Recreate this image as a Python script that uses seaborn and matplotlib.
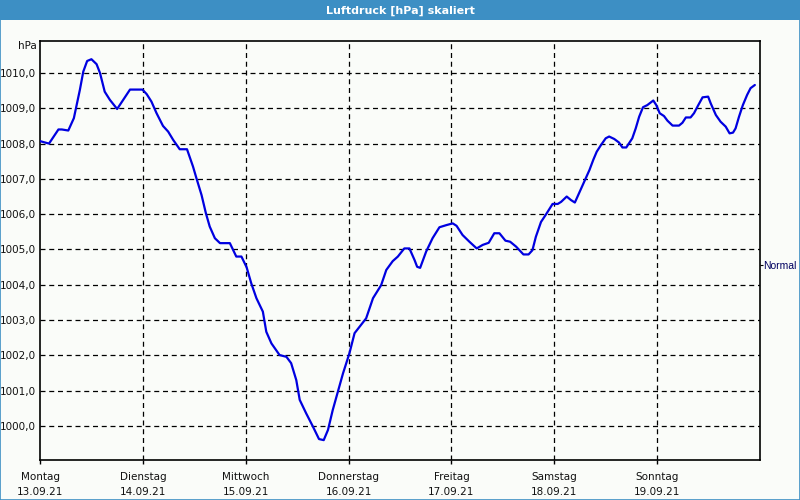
import matplotlib
matplotlib.use("Agg")
import matplotlib.pyplot as plt
import seaborn as sns
import pandas as pd
from matplotlib.patches import Rectangle

# ---- data (hours since Monday 00:00, pressure in hPa) ----
hours = [0.0, 2.1, 4.3, 5.1, 6.6, 7.9, 9.3, 10.1, 11.0, 12.0, 13.2, 14.0, 15.1, 16.3, 18.0,
         21.0, 23.9, 24.9, 26.0, 27.2, 28.7, 29.9, 31.1, 32.6, 34.3, 35.7, 36.5, 37.7, 38.7,
         39.6, 40.8, 42.0, 44.3, 45.8, 47.0, 48.2, 49.3, 50.5, 52.0, 52.8, 54.0, 55.9, 57.5,
         58.6, 59.8, 60.6, 62.1, 63.7, 65.1, 66.2, 67.2, 68.3, 69.5, 70.7, 72.2, 73.4, 75.0,
         76.1, 77.7, 79.6, 80.8, 82.3, 83.5, 85.0, 86.2, 87.4, 88.0, 88.7, 90.1, 91.6, 93.2,
         94.8, 96.3, 97.2, 98.6, 100.2, 101.9, 103.3, 104.7, 106.0, 107.2, 108.6, 109.7,
         111.1, 112.8, 114.0, 114.9, 115.7, 116.9, 118.1, 119.6, 120.8, 121.6, 122.9, 123.9,
         124.8, 125.8, 127.0, 128.2, 129.1, 129.9, 130.9, 132.0, 132.8, 134.0, 135.1, 135.9,
         136.8, 138.2, 139.0, 139.8, 140.7, 141.7, 143.1, 143.8, 144.6, 145.6, 146.4, 147.6,
         149.1, 149.9, 150.7, 151.8, 152.6, 153.6, 154.6, 155.9, 156.5, 157.7, 158.8, 160.0,
         160.9, 161.7, 162.3, 163.1, 164.0, 165.0, 165.8, 166.8]
pressure = [1008.07, 1008.0, 1008.4, 1008.4, 1008.37, 1008.72, 1009.52, 1010.04, 1010.34,
            1010.39, 1010.25, 1010.0, 1009.47, 1009.24, 1008.98, 1009.53, 1009.53, 1009.4,
            1009.19, 1008.86, 1008.5, 1008.34, 1008.1, 1007.84, 1007.84, 1007.35, 1007.02,
            1006.54, 1006.03, 1005.65, 1005.32, 1005.18, 1005.18, 1004.8, 1004.8, 1004.5,
            1004.04, 1003.62, 1003.24, 1002.67, 1002.34, 1002.01, 1001.96, 1001.78, 1001.3,
            1000.74, 1000.36, 999.98, 999.63, 999.6, 999.89, 1000.45, 1000.97, 1001.49,
            1002.06, 1002.63, 1002.88, 1003.05, 1003.62, 1003.99, 1004.42, 1004.67, 1004.8,
            1005.03, 1005.03, 1004.7, 1004.51, 1004.48, 1004.94, 1005.32, 1005.63, 1005.69,
            1005.74, 1005.67, 1005.41, 1005.22, 1005.03, 1005.13, 1005.19, 1005.46, 1005.46,
            1005.25, 1005.22, 1005.08, 1004.86, 1004.86, 1004.98, 1005.36, 1005.78, 1006.0,
            1006.29, 1006.29, 1006.35, 1006.5, 1006.4, 1006.33, 1006.6, 1006.92, 1007.25,
            1007.54, 1007.77, 1007.96, 1008.15, 1008.2, 1008.13, 1008.03, 1007.89, 1007.89,
            1008.15, 1008.43, 1008.76, 1009.03, 1009.09, 1009.22, 1009.09, 1008.86, 1008.78,
            1008.65, 1008.51, 1008.51, 1008.59, 1008.74, 1008.74, 1008.86, 1009.09, 1009.31,
            1009.33, 1009.14, 1008.81, 1008.62, 1008.48, 1008.29, 1008.31, 1008.43, 1008.76,
            1009.09, 1009.38, 1009.57, 1009.66]

day_names = ["Montag", "Dienstag", "Mittwoch", "Donnerstag", "Freitag", "Samstag", "Sonntag"]
day_dates = ["13.09.21", "14.09.21", "15.09.21", "16.09.21", "17.09.21", "18.09.21", "19.09.21"]
y_ticks = [1000, 1001, 1002, 1003, 1004, 1005, 1006, 1007, 1008, 1009, 1010]
normal_level = 1004.56
title = "Luftdruck [hPa] skaliert"
unit = "hPa"

df = pd.DataFrame({"Stunde": hours, "Luftdruck": pressure})

sns.set_theme(style="white")
plt.rcParams["font.family"] = ["DejaVu Sans"]

bg = "#fafcf9"
bar_blue = "#3d8fc4"

fig = plt.figure(figsize=(8, 5), dpi=100, facecolor=bg)
ax = fig.add_axes([0.05, 0.08, 0.90, 0.838])
ax.set_facecolor(bg)

sns.lineplot(data=df, x="Stunde", y="Luftdruck", ax=ax, color="#0000e0",
             linewidth=1.6, zorder=3)

ax.set_xlim(0, 168)
ax.set_ylim(999.037, 1010.906)
ax.set_xlabel("")
ax.set_ylabel("")

ax.set_yticks(y_ticks)
ax.set_yticklabels([f"{v:.1f}".replace(".", ",") for v in y_ticks], fontsize=7.5, color="#111111")
ax.set_xticks([24 * i for i in range(7)])
ax.set_xticklabels([f"{n}\n{d}" for n, d in zip(day_names, day_dates)],
                   fontsize=7.5, color="#111111", linespacing=1.55)

ax.tick_params(axis="y", length=0, pad=3)
ax.tick_params(axis="x", length=3, width=1, color="black", pad=6, direction="out", bottom=True)

for v in y_ticks:
    ax.axhline(v, color="black", linestyle=(0, (4, 3)), linewidth=0.9, zorder=1)
for i in range(1, 7):
    ax.axvline(24 * i, color="black", linestyle=(0, (4, 3)), linewidth=0.9, zorder=1)

for s in ax.spines.values():
    s.set_visible(True)
    s.set_color("black")
    s.set_linewidth(1.2)

# right-hand "Normal" marker
ax2 = ax.twinx()
ax2.set_ylim(ax.get_ylim())
ax2.set_yticks([normal_level])
ax2.set_yticklabels(["Normal"], fontsize=7.5, color="#000060", family=["Liberation Sans"])
ax2.tick_params(axis="y", length=2, width=0.8, color="black", pad=0.5)
ax2.grid(False)
for s in ax2.spines.values():
    s.set_visible(False)

# unit label
fig.text(37 / 800, 1 - 46 / 500, unit, ha="right", va="center", fontsize=7.5, color="#111111")

# title bar
fig.patches.append(Rectangle((0, 1 - 20 / 500), 1, 20 / 500, transform=fig.transFigure,
                             facecolor=bar_blue, edgecolor="none", zorder=0))
fig.text(0.5, 1 - 10.5 / 500, title, ha="center", va="center", fontsize=8,
         fontweight="bold", color="white")
# outer border
fig.patches.append(Rectangle((0.0006, 0.001), 0.9988, 0.998, transform=fig.transFigure,
                             facecolor="none", edgecolor=bar_blue, linewidth=1.2, zorder=0))

fig.savefig("out.png", dpi=100, facecolor=bg)
